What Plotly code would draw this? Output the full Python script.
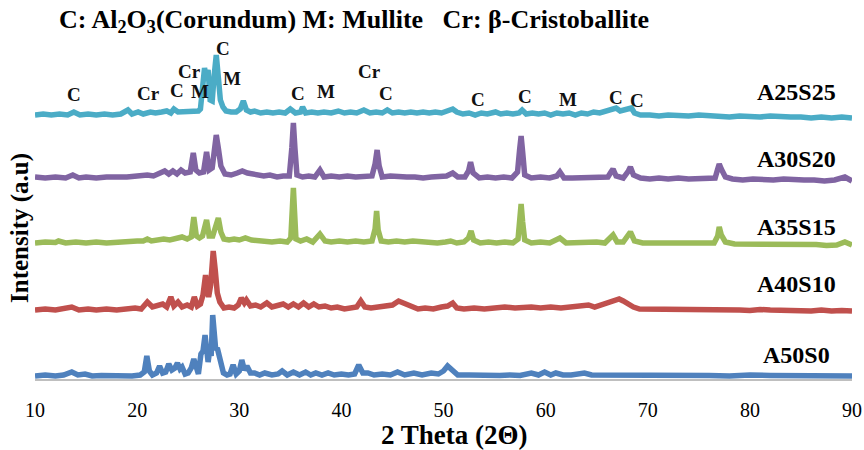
import plotly.graph_objects as go

# ---------------- data (2-theta, relative intensity) ----------------
series_names = ["A50S0", "A40S10", "A35S15", "A30S20", "A25S25"]
series_colors = ["#4F81BD", "#C0504D", "#9BBB59", "#8064A2", "#4BACC6"]
series_offsets = [3, 69, 135, 201, 264]

a50s0 = [(10,0),(11,1),(12,0),(12.8,1),(13.6,4),(14.2,1),(14.9,2),(15.6,0),(16.5,0.5),(17.5,0),
         (18.5,0.5),(19.5,0),(20.3,1),(20.7,4),(20.95,20),(21.2,5),(21.5,1),(21.9,3),(22.2,10),(22.5,3),
         (22.8,4),(23.1,12),(23.4,6),(23.7,8),(23.95,13),(24.2,7),(24.4,9),(24.7,2),(25.0,3),(25.3,8),
         (25.55,17),(25.8,6),(26.0,2),(26.25,22),(26.45,25),(26.65,41),(26.85,16),(26.95,14),(27.1,25),
         (27.25,20),(27.4,61),(27.55,30),(27.7,26),(27.85,28),(28.0,20),(28.2,16),(28.45,3),(28.8,1),
         (29.1,2),(29.4,11),(29.7,2),(30.0,5),(30.25,16),(30.5,6),(30.75,10),(31.1,3),(31.5,3),(32.0,1),
         (32.5,3),(33.2,1),(33.8,2),(34.2,5),(34.7,1),(35.3,4),(35.9,1),(36.5,4),(37.0,1),(37.5,3),
         (38.1,1),(38.7,3),(39.3,1),(40.0,2),(40.7,1),(41.3,2),(41.7,11),(42.1,3),(42.6,3),(43.2,1),
         (44.0,2),(44.8,1),(45.5,4),(46.2,1),(47.1,3),(47.9,1),(48.8,3),(49.5,2),(50.0,5),(50.4,10),
         (50.8,6),(51.4,1),(52.5,1),(53.5,0.5),(54.5,1),(55.5,0.5),(56.5,1),(57.5,0.5),(58.6,3),(59.3,1),
         (59.9,4),(60.5,1),(61.0,3),(61.7,1),(62.5,1),(63.2,2),(63.8,3),(64.5,1),(66,1),(68,1),(70,0.5),
         (72,1),(74,0.5),(75,1.5),(76,0.5),(78,0),(80,1),(82,0.5),(84,0.5),(86,0),(88,0.5),(90,0)]

a40s10 = [(10,0),(11,1),(12,0),(12.8,1),(13.6,3),(14.3,0),(15.2,1),(16,0),(17,1),(18,0),(19,1),(19.8,2),
          (20.4,1),(21.0,8),(21.5,3),(22.0,4),(22.5,6),(22.9,3),(23.3,13),(23.6,4),(24.0,8),(24.4,3),
          (24.9,5),(25.3,3),(25.6,13),(25.9,4),(26.2,6),(26.45,15),(26.7,35),(26.85,20),(27.0,13),
          (27.2,25),(27.45,59),(27.65,40),(27.85,17),(28.1,8),(28.5,2),(29.0,3),(29.5,2),(29.9,5),
          (30.2,12),(30.5,7),(30.7,10),(31.1,4),(31.6,5),(32.1,3),(32.7,7),(33.2,3),(33.8,4),(34.3,6),
          (34.8,3),(35.3,6),(35.8,3),(36.3,7),(36.8,3),(37.3,6),(37.8,3),(38.4,4),(39.0,2),(39.6,3),
          (40.3,1),(41.0,2),(41.5,3),(41.9,9),(42.3,3),(42.9,2),(43.6,3),(44.3,3),(45.0,5),(45.6,9),
          (46.2,6),(46.8,3),(47.5,1),(48.2,2),(49.0,1),(49.8,3),(50.4,4),(50.9,7),(51.3,2),(52.0,1),
          (53.0,2),(54.0,1),(55.0,2),(56.0,3),(57.0,2),(58.0,3),(58.6,3),(59.5,2),(60.5,3),(61.5,2),
          (62.5,3),(63.5,3),(64.2,5),(64.8,3),(65.5,5),(66.0,7),(66.6,9),(67.2,11),(67.6,9),(68.1,6),
          (68.6,3),(69.2,1),(70,1),(71,0),(72,1),(73,0.5),(74,1),(75,0),(76,1),(77,0),(78,0.5),(79,0),
          (80,-0.5),(81,0.5),(82,0),(83,-0.5),(84,0),(85,-0.5),(86,-1),(87,0),(88,-1),(89,-0.5),(90,-1)]

a35s15 = [(10,1),(11,2),(12,1.5),(12.3,3),(13,1),(14,2),(15,1),(16,2),(17,1),(18,2),(19,2),(20,3),
          (20.6,3),(21.0,5),(21.4,3),(22,4),(22.6,5),(23.2,4),(23.8,6),(24.4,7),(24.9,5),(25.3,7),
          (25.55,27),(25.8,8),(26.1,6),(26.4,8),(26.8,24),(27.05,8),(27.4,8),(27.75,20),(27.95,26),
          (28.2,12),(28.5,5),(29.0,4),(29.5,5),(30.0,4),(30.6,6),(31.2,4),(31.8,3),(32.5,3),(33.2,2),
          (34.0,3),(34.7,2),(35.05,6),(35.2,35),(35.3,56),(35.4,35),(35.55,5),(36.0,3),(36.6,5),(37.2,2),
          (37.9,10),(38.4,3),(39.0,2),(39.8,3),(40.6,2),(41.4,3),(42.2,2),(43.0,3),(43.3,15),(43.45,33),
          (43.6,14),(43.9,3),(44.6,2),(45.4,3),(46.2,2),(47.0,3),(47.8,2),(48.6,2),(49.4,1),(50.2,2),
          (50.7,3),(51.3,1),(52.0,2),(52.45,6),(52.7,13),(52.95,4),(53.6,1),(54.4,2),(55.2,1),(56.0,2),
          (56.8,1),(57.3,5),(57.45,25),(57.6,40),(57.75,22),(57.95,4),(58.6,1),(59.5,2),(60.4,1),
          (61.4,6),(62.0,1),(63,1.5),(64,1),(65,2),(65.8,1),(66.6,9),(67.0,2),(67.6,2),(68.3,12),
          (68.7,3),(69.5,1),(70.5,1),(71.5,0.5),(72.5,1),(73.5,0),(74.5,1),(75.5,0),(76.5,1),(76.85,8),
          (77.0,17),(77.2,9),(77.6,2),(78.5,0),(79.5,0),(80.5,-1),(81.5,0),(82.5,-1),(83.5,0),(84.5,-1),
          (85.5,-1),(86.5,-0.5),(87.5,-1.5),(88.5,-1),(89.3,2),(90,-1)]

a30s20 = [(10,1),(11,0),(12,1),(13,0),(13.7,3),(14.3,0),(15,1),(16,0),(17,1),(18,0.5),(19,1),(20,2),
          (21.0,3),(21.6,2),(22.2,4),(22.7,7),(23.1,4),(23.5,7),(23.9,4),(24.3,8),(24.7,5),(25.2,6),
          (25.5,25),(25.75,8),(26.1,5),(26.5,6),(26.8,26),(27.05,8),(27.35,10),(27.6,36),(27.75,43),
          (27.95,30),(28.2,12),(28.6,4),(29.2,3),(29.8,5),(30.3,7),(30.8,5),(31.3,4),(31.8,4),(32.4,2),
          (33.0,3),(33.7,1),(34.3,2),(34.9,2),(35.15,30),(35.3,55),(35.45,30),(35.65,3),(36.2,1),
          (36.8,2),(37.4,1),(37.9,8),(38.3,1),(39.0,2),(39.8,1),(40.6,2),(41.4,1),(42.2,2),(43.0,2),
          (43.3,14),(43.5,28),(43.7,12),(44.0,1),(44.8,2),(45.6,1),(46.4,1),(47.2,1),(48.0,0),(48.8,1),
          (49.6,1),(50.3,2),(50.9,5),(51.4,1),(52.1,1),(52.45,7),(52.65,16),(52.9,5),(53.5,0),(54.3,1),
          (55.1,0),(55.9,1),(56.7,0),(57.25,6),(57.45,28),(57.6,42),(57.75,26),(57.95,3),(58.6,0),
          (59.5,1),(60.4,0),(61.1,2),(61.4,6),(61.8,0),(62.6,0),(63.5,0),(64.4,1),(65.2,0),(66.1,1),
          (66.4,6),(66.6,9),(66.9,2),(67.6,0),(68.1,7),(68.3,11),(68.6,3),(69.3,0),(70.2,-1),(71.1,0),
          (72.0,-1),(73.0,0),(74.0,-1),(75.0,-1),(76.0,-1),(76.6,0),(76.85,9),(77.0,14),(77.2,9),
          (77.6,1),(78.3,-1),(79.3,-2),(80.3,-1),(81.3,-2),(82.3,-2),(83.3,-1),(84.3,-2),(85.3,-2),
          (86.3,-2),(87.3,-3),(88.3,-2),(89.3,1),(90,-3)]

a25s25 = [(10,0),(10.8,1),(11.6,0),(12.4,1),(13.2,0),(13.8,3),(14.4,0),(15.2,1),(16,0),(16.8,1),
          (17.6,0),(18.4,1),(19.1,5),(19.5,1),(20.1,3),(20.6,1),(21.3,3),(21.8,2),(22.4,3),(22.9,4),
          (23.3,2),(23.6,6),(24.0,3),(24.4,3),(24.8,4),(25.2,3),(25.6,4),(26.0,4),(26.2,6),(26.45,30),
          (26.6,47),(26.75,38),(26.95,45),(27.15,15),(27.35,14),(27.55,40),(27.75,60),(27.95,38),
          (28.15,15),(28.4,8),(28.7,4),(29.2,3),(29.7,3),(30.1,6),(30.4,14),(30.7,5),(31.1,3),(31.5,4),
          (32.1,2),(32.7,3),(33.3,2),(33.9,3),(34.5,2),(35.0,6),(35.5,2),(36.0,3),(36.2,8),(36.5,2),
          (37.1,3),(37.7,2),(38.3,3),(39.0,2),(39.7,4),(40.3,2),(40.9,3),(41.5,2),(42.2,5),(42.8,2),
          (43.4,3),(44.0,2),(44.5,5),(45.0,2),(45.6,3),(46.2,2),(46.8,3),(47.4,2),(48.0,3),(48.6,2),
          (49.2,3),(49.8,2),(50.4,4),(50.9,6),(51.3,3),(51.9,1),(52.5,2),(53.1,0),(53.7,2),(54.3,1),
          (55.1,3),(55.6,1),(56.2,2),(56.8,1),(57.4,2),(57.7,5),(58.1,1),(58.7,2),(59.3,1),(59.9,2),
          (60.5,0),(61.1,2),(61.7,1),(62.3,2),(62.9,0),(63.5,2),(64.1,1),(64.7,3),(65.3,2),(65.9,4),
          (66.5,5),(66.9,7),(67.3,4),(67.8,5),(68.4,7),(68.7,2),(69.3,0),(70.2,0),(71.1,-1),(72,0),
          (73,-1),(74,-1),(75,0),(76,-1),(77,-1),(78,-2),(79,-1),(80,-2),(81,-2),(82,-1),(83,-2),
          (84,-2),(85,-2),(86,-3),(87,-2),(88,-3),(89,-2),(90,-3)]

series_data = [a50s0, a40s10, a35s15, a30s20, a25s25]

# phase markers: (label, 2-theta, height)
phase_labels = ["C", "Cr", "C", "M", "Cr", "C", "M", "C", "M", "Cr", "C", "C", "C", "M", "C", "C"]
phase_x = [13.8, 21.1, 23.9, 26.2, 25.1, 28.45, 29.3, 35.8, 38.5, 42.8, 44.4, 53.4, 58.0, 62.2, 66.9, 68.9]
phase_y = [285, 286, 289, 288, 308, 331, 301, 286, 288, 308, 286, 280, 283, 280, 282, 279]

label_x = 84.6
label_y = [24, 95, 152, 220, 287]

x_ticks = [10, 20, 30, 40, 50, 60, 70, 80, 90]

title_text = "C: Al<sub>2</sub>O<sub>3</sub>(Corundum) M: Mullite   Cr: β-Cristoballite"
x_title = "2 Theta (2Θ)"
y_title = "Intensity (a.u)"

SERIF = "Liberation Serif, Times New Roman, serif"

W, H = 864, 450
ML, MR, MT, MB = 35, 12, 39, 71
PW, PH = W - ML - MR, H - MT - MB


def px_to_paper(px, py):
    return (px - ML) / PW, (H - MB - py) / PH


fig = go.Figure()
for name, color, off, pts in zip(series_names, series_colors, series_offsets, series_data):
    xs = [p[0] for p in pts]
    ys = [p[1] + off for p in pts]
    fig.add_trace(go.Scatter(x=xs, y=ys, mode="lines", name=name,
                             line=dict(color=color, width=5.5), hoverinfo="skip"))

annotations = []
for t, x, y in zip(phase_labels, phase_x, phase_y):
    annotations.append(dict(x=x, y=y, xref="x", yref="y", text="<b>%s</b>" % t, showarrow=False,
                            font=dict(family=SERIF, size=19, color="#111111"),
                            xanchor="center", yanchor="middle"))
for name, y in zip(series_names, label_y):
    annotations.append(dict(x=label_x, y=y, xref="x", yref="y", text="<b>%s</b>" % name,
                            showarrow=False, font=dict(family=SERIF, size=24, color="#000000"),
                            xanchor="center", yanchor="middle"))

tx, ty = px_to_paper(354, 21)
annotations.append(dict(x=tx, y=ty, xref="paper", yref="paper", text="<b>%s</b>" % title_text,
                        showarrow=False, font=dict(family=SERIF, size=26, color="#000000"),
                        xanchor="center", yanchor="middle"))
xx, xy = px_to_paper(454, 435)
annotations.append(dict(x=xx, y=xy, xref="paper", yref="paper", text="<b>%s</b>" % x_title,
                        showarrow=False, font=dict(family=SERIF, size=27, color="#000000"),
                        xanchor="center", yanchor="middle"))
yx, yy = px_to_paper(20, 228)
annotations.append(dict(x=yx, y=yy, xref="paper", yref="paper", text="<b>%s</b>" % y_title,
                        showarrow=False, textangle=-90, font=dict(family=SERIF, size=25, color="#000000"),
                        xanchor="center", yanchor="middle"))

fig.update_layout(
    width=W, height=H,
    margin=dict(l=ML, r=MR, t=MT, b=MB, autoexpand=False),
    paper_bgcolor="white", plot_bgcolor="white",
    showlegend=False,
    annotations=annotations,
    xaxis=dict(range=[10, 90], tickvals=x_ticks, ticktext=[str(v) for v in x_ticks],
               showgrid=False, zeroline=False, showline=True, linecolor="#BFBFBF", linewidth=2,
               ticks="", ticklabelstandoff=12, layer="below traces", automargin=False,
               tickfont=dict(family=SERIF, size=20, color="#000000")),
    yaxis=dict(range=[0, 340], showgrid=False, zeroline=False, showline=False,
               showticklabels=False, ticks="", automargin=False),
)

fig.write_html("out.html")
